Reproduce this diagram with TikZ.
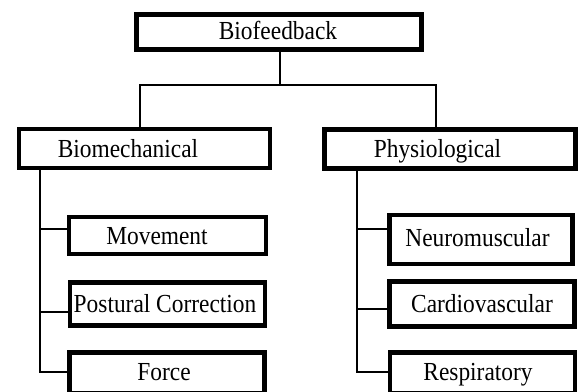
\documentclass[tikz,border=0pt]{standalone}
\usepackage{fontspec}
\setmainfont{Liberation Serif}
\newfontfamily\lbfont[FakeStretch=0.9]{Liberation Serif}
\begin{document}
\begin{tikzpicture}[x=0.75pt,y=-0.75pt,
  box/.style={draw, line width=3.375pt, inner sep=0pt, fill=white},
  lbl/.style={font=\lbfont\fontsize{19.5}{22}\selectfont, inner sep=0pt, text height=12.9pt, text depth=0pt},
  conn/.style={line width=1.1pt}]
\useasboundingbox (0,0) rectangle (579,392);
\clip (0,0) rectangle (579,392);
% boxes
\node[box, minimum width=214.1pt, minimum height=26.6pt] (bf) at (279,32) {};
\node[box, minimum width=187.9pt, minimum height=28.9pt] (bm) at (144.5,148.5) {};
\node[box, minimum width=188.6pt, minimum height=29.6pt] (ph) at (450,149) {};
\node[box, minimum width=147.4pt, minimum height=27.4pt] (mv) at (167.5,235.5) {};
\node[box, minimum width=145.9pt, minimum height=32.6pt] (pc) at (167.5,304) {};
\node[box, minimum width=146.6pt, minimum height=31.1pt] (fo) at (167,373) {};
\node[box, minimum width=137.6pt, minimum height=36.4pt] (nm) at (481,239.5) {};
\node[box, minimum width=139.1pt, minimum height=34.1pt] (cv) at (482,304) {};
\node[box, minimum width=138.4pt, minimum height=31.1pt] (rs) at (482.5,373) {};
% labels
\node[lbl] (tbf) at (278,31) {Biofeedback};
\node[lbl] (tbm) at (128,148.5) {Biomechanical};
\node[lbl] (tph) at (437.5,149) {Physiological};
\node[lbl] (tmv) at (157,236) {Movement};
\node[lbl] (tpc) at (165,304) {Postural Correction};
\node[lbl] (tfo) at (164,372) {Force};
\node[lbl] (tnm) at (477.5,237.5) {Neuromuscular};
\node[lbl] (tcv) at (482,304) {Cardiovascular};
\node[lbl] (trs) at (478,372) {Respiratory};
% junctions
\coordinate (hub) at (280,85);
\coordinate (jl) at (140,85);
\coordinate (jr) at (436,85);
\coordinate (tl) at (40,372);
\coordinate (tr) at (357,372);
% connectors
\draw[conn] (bf.south -| hub) -- (hub);
\draw[conn] (bm.north -| jl) -- (jl) -- (jr) -- (ph.north -| jr);
\draw[conn] (bm.south -| tl) -- (tl) -- (fo.west |- tl);
\draw[conn] (mv.west |- 0,229) -- (40,229);
\draw[conn] (pc.west |- 0,312) -- (40,312);
\draw[conn] (ph.south -| tr) -- (tr) -- (rs.west |- tr);
\draw[conn] (nm.west |- 0,229) -- (357,229);
\draw[conn] (cv.west |- 0,309) -- (357,309);
\end{tikzpicture}
\end{document}
